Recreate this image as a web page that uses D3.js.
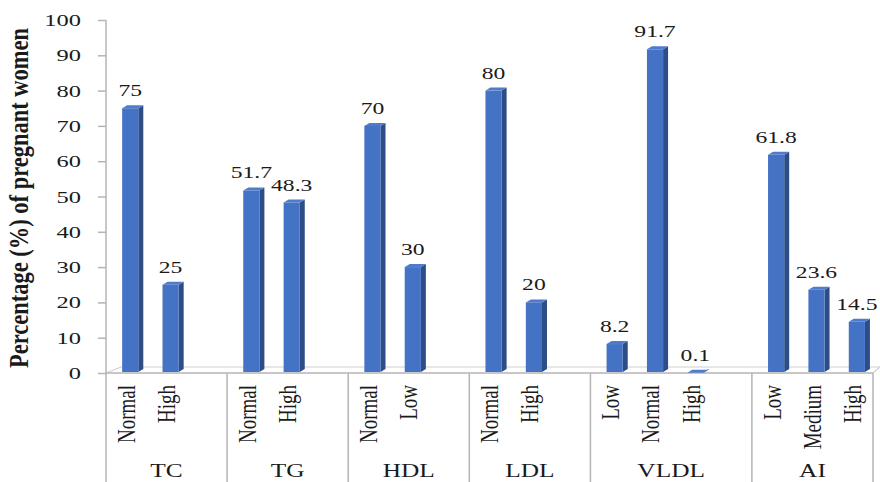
<!DOCTYPE html>
<html>
<head>
<meta charset="utf-8">
<script src="https://d3js.org/d3.v7.min.js"></script>
<style>
  body { margin: 0; background: #fff; }
  svg { display: block; }
  text { font-family: "Liberation Serif", "Times New Roman", serif; fill: #1a1a1a; }
</style>
</head>
<body>
<svg id="chart"></svg>
<script>
// data ("" / null = empty slot on the axis)
const groups = ["TC", "TG", "HDL", "LDL", "VLDL", "AI"]
const subLabels = [
  ["Normal", "High", ""],
  ["Normal", "High", ""],
  ["Normal", "Low", ""],
  ["Normal", "High", ""],
  ["Low", "Normal", "High", ""],
  ["Low", "Medium", "High"]
]
const values = [
  [75, 25, null],
  [51.7, 48.3, null],
  [70, 30, null],
  [80, 20, null],
  [8.2, 91.7, 0.1, null],
  [61.8, 23.6, 14.5]
]
const yTicks = [0, 10, 20, 30, 40, 50, 60, 70, 80, 90, 100]
const yTitle = "Percentage (%) of pregnant women"

const W = 880, H = 482
const plotLeft = 106, plotRight = 873, plotTop = 20, base = 373
const stretch = 1.35   // text in the picture is wider than normal

// flatten into axis slots
let slots = []
groups.forEach((g, gi) => {
  subLabels[gi].forEach((s, si) => {
    slots.push({ id: gi + "-" + si, group: gi, label: s, value: values[gi][si] })
  })
})

const svg = d3.select("#chart").attr("width", W).attr("height", H)
svg.append("rect").attr("width", W).attr("height", H).attr("fill", "#fff")

const x = d3.scaleBand().domain(slots.map(d => d.id)).range([plotLeft, plotRight]).padding(0)
const y = d3.scaleLinear().domain([0, 100]).range([base, plotTop])

const grey = "#b4b4b4"

// floor
const fdx = 15, fdy = 6
svg.append("path")
  .attr("d", `M${plotLeft},${base} L${plotLeft + fdx},${base - fdy} L${W},${base - fdy}`)
  .attr("fill", "none").attr("stroke", "#d0d0d0").attr("stroke-width", 1.2)
svg.append("path")
  .attr("d", `M${plotRight},${base} L${plotRight + 7},${base - fdy}`)
  .attr("fill", "none").attr("stroke", "#d0d0d0").attr("stroke-width", 1.2)

// y axis
const yAxis = svg.append("g").attr("transform", `translate(${plotLeft},0)`)
  .call(d3.axisLeft(y).tickValues(yTicks).tickSize(8).tickPadding(0).tickFormat(""))
yAxis.selectAll("path, line").attr("stroke", grey).attr("stroke-width", 1.5)
yAxis.select(".domain").attr("d", `M0,${base}V${plotTop}`)

svg.append("g").selectAll("text").data(yTicks).enter().append("text")
  .attr("transform", d => `translate(81,${y(d) + 6}) scale(${stretch + 0.05},1)`)
  .attr("text-anchor", "end")
  .style("font-size", "17.5px")
  .text(d => d)

// y title (glyphs widened across, like the rest of the text)
svg.append("text")
  .attr("transform", `translate(28,198) rotate(-90) scale(1,${stretch})`)
  .attr("text-anchor", "middle")
  .attr("textLength", 340).attr("lengthAdjust", "spacingAndGlyphs")
  .style("font-size", "20px").style("font-weight", "bold")
  .text(yTitle)

// category axis line and separators
svg.append("line").attr("x1", plotLeft).attr("x2", plotRight).attr("y1", base).attr("y2", base)
  .attr("stroke", grey).attr("stroke-width", 1.5)

let bounds = [plotLeft]
let acc = 0
groups.forEach((g, gi) => {
  acc += subLabels[gi].length
  bounds.push(x(slots[acc - 1].id) + x.bandwidth())
})
svg.append("g").selectAll("line").data(bounds).enter().append("line")
  .attr("x1", d => d).attr("x2", d => d).attr("y1", base).attr("y2", H)
  .attr("stroke", grey).attr("stroke-width", 1.5)

// sub labels (rotated)
svg.append("g").selectAll("text").data(slots.filter(d => d.label)).enter().append("text")
  .attr("transform", d => `translate(${x(d.id) + x.bandwidth() / 2},385) rotate(-90) scale(1,${stretch})`)
  .attr("text-anchor", "end")
  .attr("dominant-baseline", "central")
  .style("font-size", "19px")
  .text(d => d.label)

// group labels
svg.append("g").selectAll("text").data(groups).enter().append("text")
  .attr("transform", (d, i) => `translate(${(bounds[i] + bounds[i + 1]) / 2},477) scale(1.3,1)`)
  .attr("text-anchor", "middle")
  .style("font-size", "19.5px")
  .text(d => d)

// bars with a little 3d depth
const bw = x.bandwidth()
const dx = 5, dy = 3
const bars = svg.append("g").selectAll("g").data(slots.filter(d => d.value != null)).enter().append("g")

const x0 = d => x(d.id) + bw * 0.4
const x1 = d => x(d.id) + bw * 0.8
const yb = base - 1

bars.append("path")   // side
  .attr("d", d => `M${x1(d)},${y(d.value)} L${x1(d) + dx},${y(d.value) - dy} L${x1(d) + dx},${yb - dy} L${x1(d)},${yb} Z`)
  .attr("fill", "#2c4d86")
bars.append("path")   // top
  .attr("d", d => `M${x0(d)},${y(d.value)} L${x0(d) + dx},${y(d.value) - dy} L${x1(d) + dx},${y(d.value) - dy} L${x1(d)},${y(d.value)} Z`)
  .attr("fill", "#4f7bcc")
bars.append("rect")   // front
  .attr("x", d => x0(d))
  .attr("y", d => y(d.value))
  .attr("width", d => x1(d) - x0(d))
  .attr("height", d => yb - y(d.value))
  .attr("fill", "#4472c4")

bars.append("text")
  .attr("transform", d => `translate(${(x0(d) + x1(d)) / 2},${y(d.value) - 12}) scale(${stretch},1)`)
  .attr("text-anchor", "middle")
  .style("font-size", "17.5px")
  .text(d => d.value)
</script>
</body>
</html>
